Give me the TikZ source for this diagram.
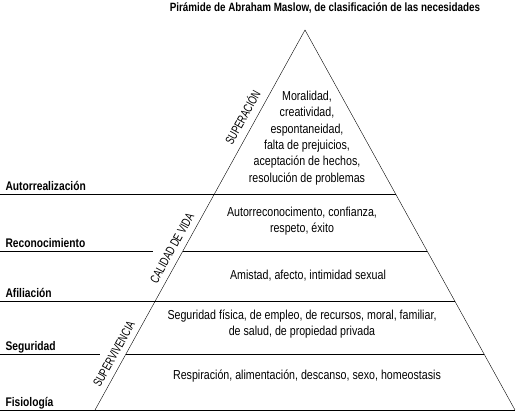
\documentclass[tikz,border=0pt]{standalone}
\usepackage{fontspec}
\setmainfont{Liberation Sans}[FakeStretch=0.82]
\newfontfamily\narrowfont{Liberation Sans}[FakeStretch=0.72]
\begin{document}
\begin{tikzpicture}[x=1pt,y=-1pt,font=\fontsize{13}{16.3}\selectfont,
  level/.style={anchor=base west,font=\fontsize{12.5}{15}\selectfont\bfseries},
  band/.style={align=center},
  side/.style={rotate=61.07,font=\narrowfont\fontsize{12.5}{13}\selectfont}]
  \useasboundingbox (0,0) rectangle (518,412);
  \node[font=\fontsize{12}{14}\selectfont\bfseries] (title) at (325,8) {Pirámide de Abraham Maslow, de clasificación de las necesidades};
  % pyramid outline
  \coordinate (apex) at (305,30);
  \coordinate (baseL) at (95,410);
  \coordinate (baseR) at (515,410);
  \draw (baseL) -- (apex) -- (baseR);
  % levels: height / label / gap left of the pyramid
  \foreach \y/\lab/\gap in {194/Autorrealización/0,251/Reconocimiento/30,301/Afiliación/0,354/Seguridad/26,410/Fisiología/0}{
    \pgfmathsetmacro\xl{305-0.55263*(\y-30)}
    \pgfmathsetmacro\xr{305+0.55263*(\y-30)}
    \draw (0,\y) -- (\xl-\gap,\y);
    \draw (\xl,\y) -- (\xr,\y);
    \node[level] at (2,\y-3.5) {\lab};
  }
  % contents of the bands
  \node[band] (superacion) at (307,138) {Moralidad,\\creatividad,\\espontaneidad,\\falta de prejuicios,\\aceptación de hechos,\\resolución de problemas};
  \node[band] (reconoc) at (302,221) {Autorreconocimento, confianza,\\respeto, éxito};
  \node[band] (afil) at (308,276) {Amistad, afecto, intimidad sexual};
  \node[band] (segur) at (302,324) {Seguridad física, de empleo, de recursos, moral, familiar,\\de salud, de propiedad privada};
  \node[band] (fisio) at (307,376) {Respiración, alimentación, descanso, sexo, homeostasis};
  % labels along the left edge
  \node[side] (sup) at (242,117) {SUPERACIÓN};
  \node[side] (cal) at (172,248) {CALIDAD DE VIDA};
  \node[side] (viv) at (114,354) {SUPERVIVENCIA};
\end{tikzpicture}
\end{document}
